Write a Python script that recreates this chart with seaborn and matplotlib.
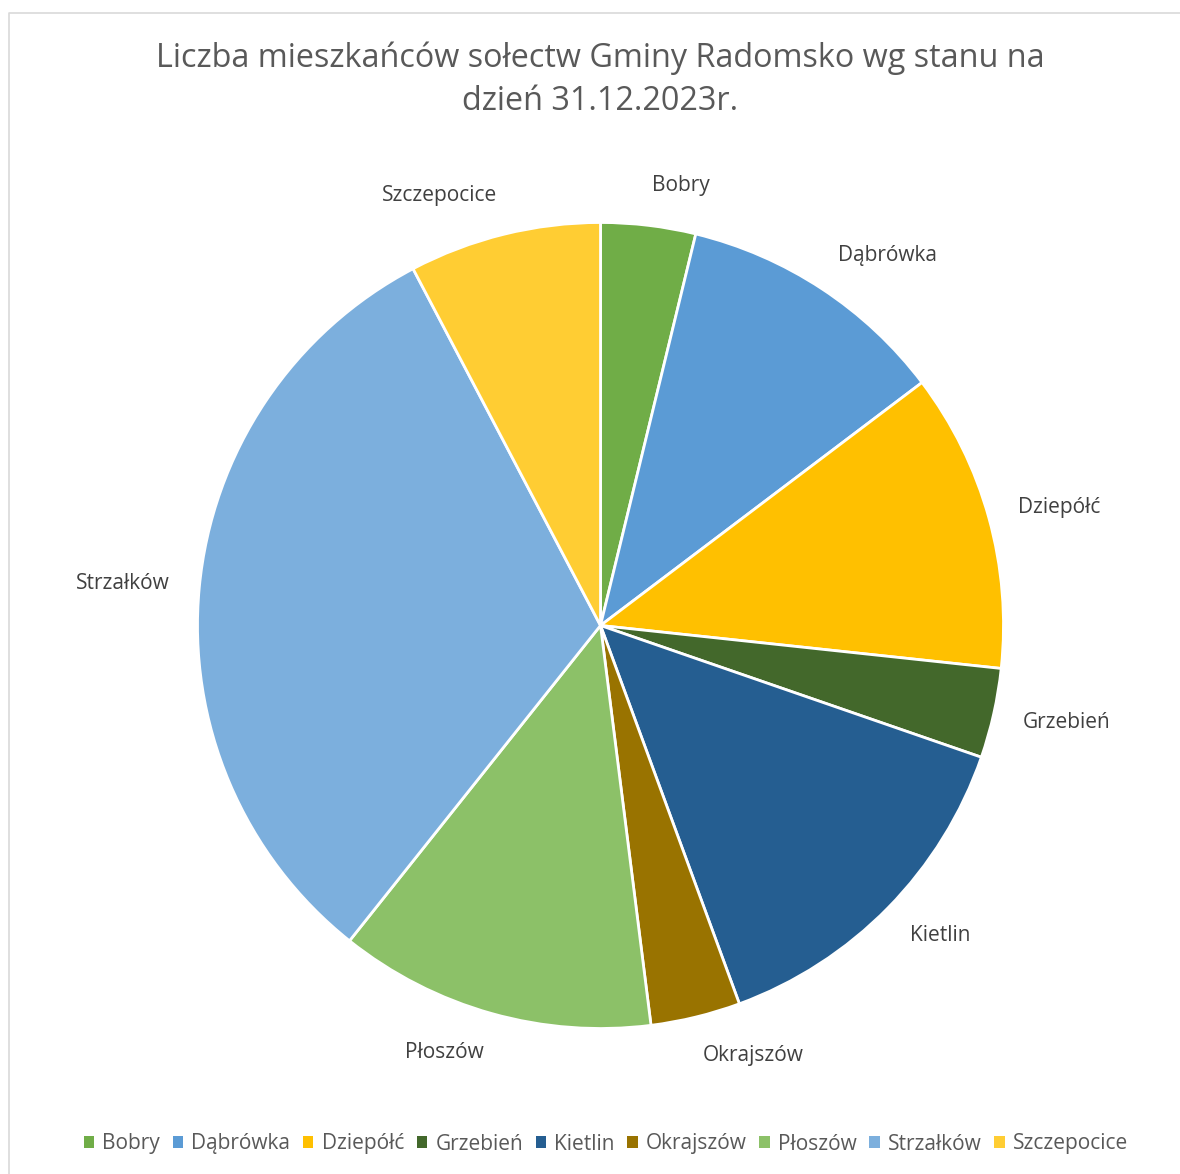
import numpy as np
import matplotlib
matplotlib.use("Agg")
import matplotlib.pyplot as plt
from matplotlib.patches import Patch
from matplotlib.lines import Line2D
import seaborn as sns

# dane: liczba mieszkańców sołectw
solectwa = ["Bobry", "Dąbrówka", "Dziepółć", "Grzebień", "Kietlin",
            "Okrajszów", "Płoszów", "Strzałków", "Szczepocice"]
mieszkancy = [532, 1526, 1680, 504, 1974, 504, 1778, 4424, 1078]
kolory = ["#70AD47", "#5B9BD5", "#FFC000", "#43682B", "#255E91",
          "#997300", "#8CC168", "#7CAFDD", "#FFCD33"]
tytul = "Liczba mieszkańców sołectw Gminy Radomsko wg stanu na\ndzień 31.12.2023r."

sns.set_theme(style="white")
plt.rcParams["font.family"] = ["Open Sans", "DejaVu Sans"]

W, H = 1180, 1174
fig = plt.figure(figsize=(W / 100, H / 100), dpi=100)

# pie: center (600.5, 625.5), radius ~403 px
cx, cy, r = 600.5, 625.5, 403
ax = fig.add_axes([(cx - r) / W, (H - cy - r) / H, 2 * r / W, 2 * r / H])

wedges, _ = ax.pie(mieszkancy, colors=kolory, startangle=90, counterclock=False,
                   wedgeprops=dict(edgecolor="white", linewidth=2))
ax.set_xlim(-1, 1)
ax.set_ylim(-1, 1)
ax.axis("off")

# etykiety poza kołem - ramka tekstu odsunięta od okręgu o promieniu 1+gap
gap = 30 / r
texts = []
for w, name in zip(wedges, solectwa):
    t = ax.text(0, 0, name, ha="center", va="center", fontsize=15,
                color="#404040", clip_on=False)
    texts.append(t)

fig.canvas.draw()
renderer = fig.canvas.get_renderer()
for w, t in zip(wedges, texts):
    bb = t.get_window_extent(renderer)
    hw = bb.width / 2 / r
    hh = 10 / r
    mid = np.deg2rad((w.theta1 + w.theta2) / 2)
    ux, uy = np.cos(mid), np.sin(mid)
    x = (1 + gap) * ux + hw * np.sign(ux)
    y = (1 + gap + hh) * uy
    t.set_position((x, y))

fig.text(cx / W, 1 - 80 / H, tytul, ha="center", va="center",
         fontsize=23.3, color="#595959", linespacing=1.4)

handles = [Patch(facecolor=c, edgecolor="none") for c in kolory]
fig.legend(handles, solectwa, loc="center", bbox_to_anchor=(606 / W, 1 - 1144 / H),
           ncol=9, frameon=False, fontsize=15, handlelength=0.5, handleheight=0.5,
           handletextpad=0.4, columnspacing=0.6, labelcolor="#595959")

# ramka wykresu
fig.add_artist(Line2D([9 / W, 9 / W, 1], [0, 1 - 13 / H, 1 - 13 / H],
                      transform=fig.transFigure, color="#d9d9d9", linewidth=1.2))

fig.savefig("out.png", dpi=100, facecolor="white")
